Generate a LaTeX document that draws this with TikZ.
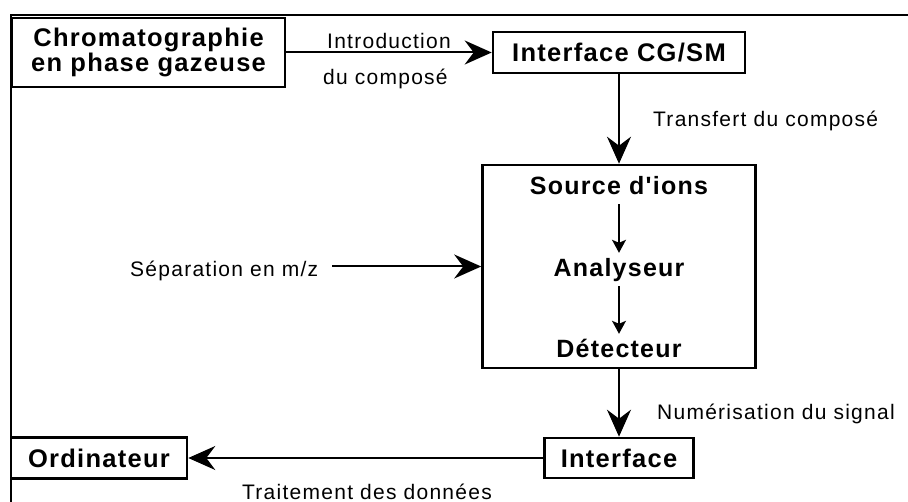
\documentclass[tikz,border=0pt]{standalone}
\usepackage{fontspec}
\setmainfont{Liberation Sans}
\newfontfamily\boitefont[LetterSpace=5]{Liberation Sans}
\newfontfamily\etiqfont[LetterSpace=6]{Liberation Sans}
\usetikzlibrary{arrows.meta}

\begin{document}
\begin{tikzpicture}[x=1pt, y=-1pt,
    >={Stealth[length=27pt, width=24pt, inset=9pt]},
    boite/.style={draw, line width=2.6pt, inner sep=0pt, align=center,
      font=\boitefont\bfseries\fontsize{25.5}{25}\selectfont},
    interne/.style={inner sep=0pt, anchor=base, text height=18pt, text depth=5pt,
      font=\boitefont\bfseries\fontsize{25}{25}\selectfont},
    etiq/.style={inner sep=0pt, anchor=base west,
      font=\etiqfont\fontsize{21}{21}\selectfont},
    fleche/.style={->, line width=2pt},
    petite/.style={-{Stealth[length=13pt, width=14pt, inset=3pt]}, line width=1.3pt,
      shorten <=4pt, shorten >=6pt}]

    \useasboundingbox (0,0) rectangle (908,502);

    % 1. Cadre (haut et gauche)
    \draw[line width=2pt] (11,502) -- (11,15) -- (908,15);

    % 2. Boîtes principales
    \node[boite, minimum width=273pt, minimum height=69pt] (chrom) at (148.5,52.5)
        {Chromatographie\\en phase gazeuse};
    \node[boite, minimum width=252pt, minimum height=41pt] (cgsm) at (619,52.5) {Interface CG/SM};
    \node[boite, minimum width=273pt, minimum height=203pt] (spectro) at (619,266.5) {};
    \node[boite, minimum width=149pt, minimum height=40pt] (iface) at (619,458) {Interface};
    \node[boite, minimum width=176pt, minimum height=41pt] (ordi) at (99,458) {Ordinateur};

    % 3. Contenu du spectromètre
    \node[interne] (source) at (619,195) {Source d'ions};
    \node[interne] (analyseur) at (619,277) {Analyseur};
    \node[interne] (detecteur) at (619,358) {Détecteur};
    \draw[petite] (source) -- (analyseur);
    \draw[petite] (analyseur) -- (detecteur);

    % 4. Étiquettes des flèches
    \node[etiq] (intro) at (327,49) {Introduction};
    \node[etiq] (ducompose) at (323,85) {du composé};
    \node[etiq] (transfert) at (653,127) {Transfert du composé};
    \node[etiq] (separation) at (130,277) {Séparation en m/z};
    \node[etiq] (numerisation) at (657,420) {Numérisation du signal};
    \node[etiq] (traitement) at (242,499) {Traitement des données};

    % 5. Flèches
    \draw[fleche] (chrom) -- (cgsm);
    \draw[fleche] (cgsm) -- (spectro);
    \draw[fleche, shorten <=14pt] (separation.east |- spectro.west) -- (spectro.west);
    \draw[fleche] (spectro) -- (iface);
    \draw[fleche] (iface) -- (ordi);

\end{tikzpicture}
\end{document}
